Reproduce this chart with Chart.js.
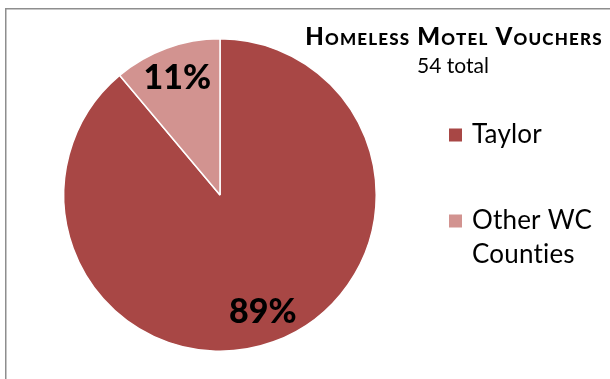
<!DOCTYPE html>
<html>
<head>
<meta charset="utf-8">
<script src="https://cdn.jsdelivr.net/npm/chart.js@4"></script>
<style>
  html, body { margin: 0; padding: 0; background: #fff; }
  #wrap { width: 610px; height: 379px; }
</style>
</head>
<body>
<div id="wrap"><canvas id="canvasVouchers" width="610" height="379"></canvas></div>
<script>
// vouchers by county
var categorias = ['Taylor', ['Other WC', 'Counties']];
var vouchers = [48, 6];
var colores = ['#a84745', '#d29390'];
var titulo = 'Homeless Motel Vouchers';
var subtitulo = '54 total';

var total = vouchers.reduce(function(a, b){ return a + b; }, 0);

// marco, titulo, leyenda y porcentajes
var extras = {
	id: 'extras',
	beforeDraw: function(chart){
		var ctx = chart.ctx;
		ctx.save();
		ctx.strokeStyle = '#8e8e8e';
		ctx.lineWidth = 1.5;
		ctx.strokeRect(5.75, 8.75, 700, 500);
		ctx.restore();
	},
	afterDraw: function(chart){
		var ctx = chart.ctx;
		ctx.save();
		ctx.fillStyle = '#000';

		// titulo
		ctx.textAlign = 'center';
		ctx.textBaseline = 'alphabetic';
		ctx.font = 'small-caps 900 24px Lato';
		ctx.letterSpacing = '1.2px';
		ctx.fillText(titulo, 454, 45);
		ctx.letterSpacing = '0px';
		ctx.font = '21px Lato';
		ctx.fillText(subtitulo, 453, 73);

		// leyenda
		ctx.textAlign = 'left';
		ctx.textBaseline = 'middle';
		ctx.font = '26px Lato';
		ctx.letterSpacing = '0.2px';
		var ys = [135, 221];
		categorias.forEach(function(cat, i){
			ctx.fillStyle = colores[i];
			ctx.fillRect(449, ys[i] - 6.5, 13, 13);
			ctx.fillStyle = '#000';
			var lineas = Array.isArray(cat) ? cat : [cat];
			lineas.forEach(function(l, j){
				ctx.fillText(l, 472, ys[i] + j * 34);
			});
		});
		ctx.letterSpacing = '0px';

		// porcentajes
		ctx.textAlign = 'center';
		ctx.font = '900 34px Lato';
		var meta = chart.getDatasetMeta(0);
		meta.data.forEach(function(arc, i){
			var p = arc.getProps(['x', 'y', 'startAngle', 'endAngle', 'outerRadius'], true);
			var mid = (p.startAngle + p.endAngle) / 2;
			var r = p.outerRadius * 0.8;
			var pct = Math.round(vouchers[i] / total * 100) + '%';
			ctx.fillText(pct, p.x + Math.cos(mid) * r, p.y + Math.sin(mid) * r);
		});
		ctx.restore();
	}
};

var ctx = document.getElementById('canvasVouchers').getContext('2d');
window.myPie = new Chart(ctx, {
	type: 'pie',
	data: {
		labels: categorias,
		datasets: [{
			data: vouchers,
			backgroundColor: colores,
			borderColor: '#ffffff',
			borderWidth: 1.5
		}]
	},
	options: {
		responsive: false,
		animation: false,
		layout: {
			padding: { top: 38, bottom: 27, left: 63, right: 233 }
		},
		plugins: {
			legend: { display: false },
			title: { display: false },
			tooltip: { enabled: false }
		}
	},
	plugins: [extras]
});
</script>
</body>
</html>
